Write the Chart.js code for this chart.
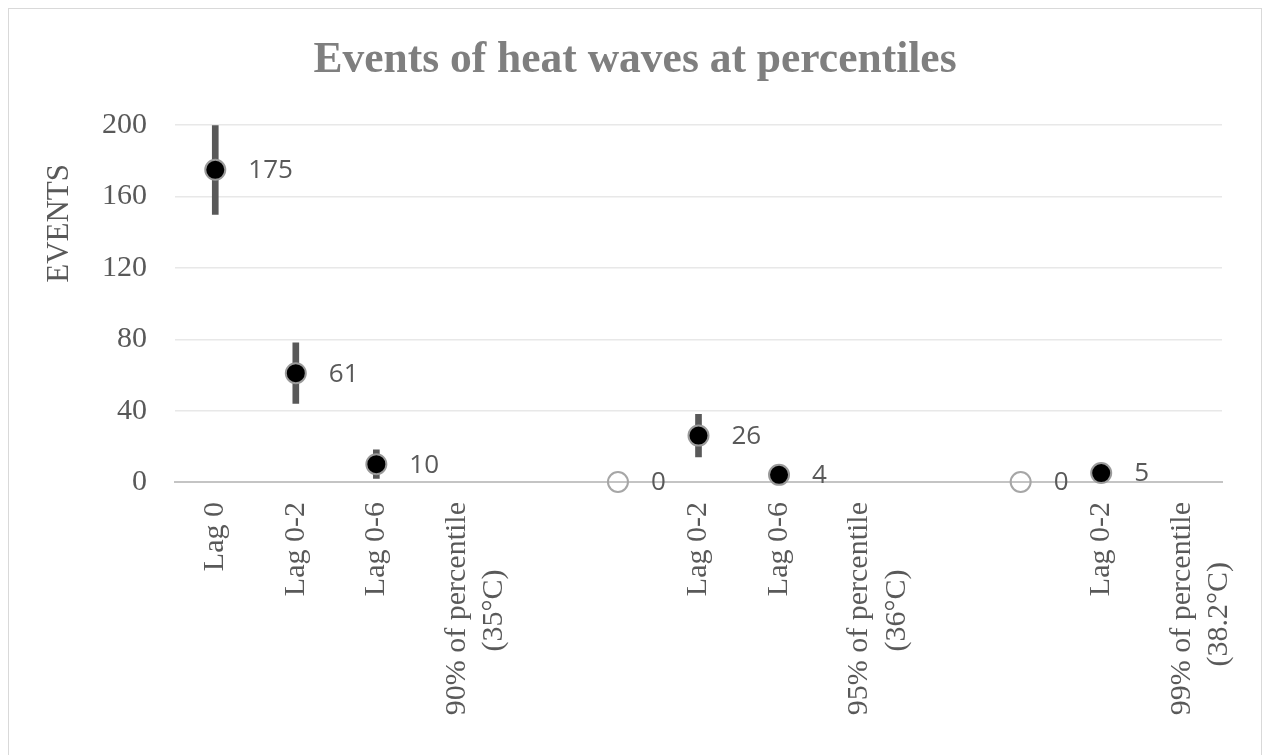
<!DOCTYPE html>
<html>
<head>
<meta charset="utf-8">
<title>Events of heat waves at percentiles</title>
<script src="https://cdn.jsdelivr.net/npm/chart.js@4.4.1/dist/chart.umd.min.js"></script>
<style>
  html, body { margin: 0; padding: 0; background: #fff; overflow: hidden; }
  #wrap { position: relative; width: 1265px; height: 755px; }
  #frame { position: absolute; left: 8px; top: 8px; width: 1254px; height: 800px;
           border: 1px solid #d9d9d9; box-sizing: border-box; pointer-events: none; }
  canvas { position: absolute; left: 0; top: 0; }
</style>
</head>
<body>
<div id="wrap">
  <canvas id="chart" width="1265" height="755"></canvas>
  <div id="frame"></div>
</div>
<script>
// Events of heat waves at percentiles - points with error bars

// ---- data ----
// second lines carry trailing spaces so they sit centred under the first line
const CATEGORIES = [
    'Lag 0', 'Lag 0-2', 'Lag 0-6', ['90% of percentile', '(35°C)         '],
    '', '',
    'Lag 0-2', 'Lag 0-6', ['95% of percentile', '(36°C)         '],
    '', '',
    'Lag 0-2', ['99% of percentile', '(38.2°C)        ']
];
const EVENTS   = [175, 61, 10, null, null, 0, 26, 4, null, null, 0, 5, null];
const CI_LOW   = [150, 44,  2, null, null, null, 14, 1, null, null, null, 2, null];
const CI_HIGH  = [200, 78, 18, null, null, null, 38, 7, null, null, null, 8, null];
const Y_MIN = 0, Y_MAX = 200, Y_STEP = 40;

const GREY_TEXT = '#595959';
const SERIF = '"Liberation Serif", "Times New Roman", serif';
const LEFT_PAD = 31, RIGHT_PAD = 26;

// value labels to the right of each point
const valueLabels = {
    id: 'valueLabels',
    afterDatasetsDraw(chart) {
        const meta = chart.getDatasetMeta(1);
        const ctx = chart.ctx;
        ctx.save();
        ctx.font = '26px "Open Sans", sans-serif';
        ctx.fillStyle = GREY_TEXT;
        ctx.textAlign = 'left';
        ctx.textBaseline = 'middle';
        meta.data.forEach((pt, i) => {
            const v = EVENTS[i];
            if (v == null) return;
            ctx.fillText(String(v), pt.x + 33, pt.y + 1);
        });
        ctx.restore();
    }
};

const errorBars = CATEGORIES.map((_, i) => CI_LOW[i] == null ? null : [CI_LOW[i], CI_HIGH[i]]);
const pointFill   = EVENTS.map(v => v === 0 ? 'rgba(255,255,255,0)' : '#000000');
const pointBorder = EVENTS.map(v => v === 0 ? '#a6a6a6' : '#9a9a9a');

new Chart(document.getElementById('chart').getContext('2d'), {
    type: 'bar',
    data: {
        labels: CATEGORIES,
        datasets: [
            {
                type: 'bar',
                label: 'Range',
                data: errorBars,
                backgroundColor: GREY_TEXT,
                barThickness: 6,
                order: 2
            },
            {
                type: 'line',
                label: 'Events',
                data: EVENTS,
                showLine: false,
                clip: false,
                pointRadius: 10,
                pointBorderWidth: 2,
                pointBackgroundColor: pointFill,
                pointBorderColor: pointBorder,
                order: 1
            }
        ]
    },
    options: {
        responsive: false,
        animation: false,
        events: [],
        layout: { padding: { left: LEFT_PAD, right: RIGHT_PAD, top: 0, bottom: 0 } },
        plugins: {
            legend: { display: false },
            tooltip: { enabled: false },
            title: {
                display: true,
                text: 'Events of heat waves at percentiles',
                color: '#7f7f7f',
                font: { family: SERIF, size: 43.5, weight: 'bold' },
                padding: { top: 35, bottom: 38 }
            }
        },
        scales: {
            x: {
                grid: { display: false },
                border: { display: true, color: '#c4c4c4', width: 2 },
                ticks: {
                    color: GREY_TEXT,
                    font: { family: SERIF, size: 30, lineHeight: 1.25 },
                    minRotation: 90,
                    maxRotation: 90,
                    autoSkip: false,
                    padding: 12
                },
                afterFit: s => {
                    s.height = 273;
                    s.paddingLeft = 0;
                    s.paddingRight = 43;   // plot ends at x = 1222
                }
            },
            y: {
                min: Y_MIN,
                max: Y_MAX,
                grid: { color: '#e8e8e8', lineWidth: 1.5, drawTicks: false },
                border: { display: false },
                ticks: {
                    stepSize: Y_STEP,
                    color: GREY_TEXT,
                    font: { family: SERIF, size: 30 },
                    padding: 28
                },
                title: {
                    display: true,
                    text: 'EVENTS     ',
                    align: 'end',
                    color: GREY_TEXT,
                    font: { family: SERIF, size: 31 },
                    padding: { top: 10, bottom: 0 }
                },
                afterFit: s => { s.width = 175 - LEFT_PAD; }
            }
        }
    },
    plugins: [valueLabels]
});
</script>
</body>
</html>
